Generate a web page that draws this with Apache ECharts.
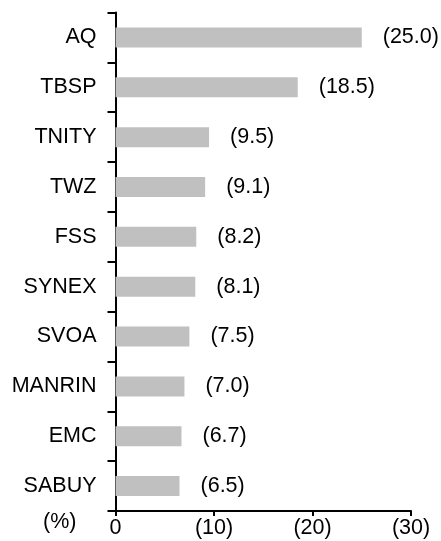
<!DOCTYPE html>
<html>
<head>
<meta charset="utf-8">
<script src="https://cdn.jsdelivr.net/npm/echarts@6/dist/echarts.min.js"></script>
<style>
  html, body { margin: 0; padding: 0; background: #fff; }
  #chart { width: 441px; height: 541px; }
</style>
</head>
<body>
<div id="chart"></div>
<script>
// categories top to bottom
var names = ['AQ', 'TBSP', 'TNITY', 'TWZ', 'FSS', 'SYNEX', 'SVOA', 'MANRIN', 'EMC', 'SABUY'];
// values in %, negative (shown in brackets)
var values = [-25.0, -18.5, -9.5, -9.1, -8.2, -8.1, -7.5, -7.0, -6.7, -6.5];
var xTicks = { min: -30, max: 0, step: 10 };

var font = 'Liberation Sans, Arial, sans-serif';
var fs = 21.5;

var chart = echarts.init(document.getElementById('chart'));
chart.setOption({
  animation: false,
  grid: { left: 115.5, right: 30, top: 12.5, bottom: 30 },
  xAxis: {
    type: 'value',
    inverse: true,
    min: xTicks.min,
    max: xTicks.max,
    interval: xTicks.step,
    splitLine: { show: false },
    axisLine: { show: true, lineStyle: { color: '#000', width: 2 } },
    axisTick: { show: true, inside: false, length: 5, lineStyle: { color: '#000', width: 2 } },
    axisLabel: {
      color: '#000', fontSize: fs, fontFamily: font, margin: 6,
      formatter: function (v) { return v === 0 ? '0' : '(' + Math.abs(v) + ')'; }
    }
  },
  yAxis: {
    type: 'category',
    inverse: true,
    data: names,
    axisLine: { show: true, lineStyle: { color: '#000', width: 2 } },
    axisTick: { show: true, inside: false, length: 8, lineStyle: { color: '#000', width: 2 } },
    axisLabel: { color: '#000', fontSize: fs, fontFamily: font, margin: 19 }
  },
  graphic: [{
    type: 'text', left: 43, top: 511,
    style: { text: '(%)', fill: '#000', font: fs + 'px ' + font }
  }],
  series: [{
    type: 'bar',
    data: values,
    barWidth: 20,
    itemStyle: { color: '#c0c0c0' },
    label: {
      show: true,
      position: 'right',
      distance: 21,
      color: '#000',
      fontSize: fs,
      fontFamily: font,
      formatter: function (p) { return '(' + Math.abs(p.value).toFixed(1) + ')'; }
    }
  }]
});
</script>
</body>
</html>
